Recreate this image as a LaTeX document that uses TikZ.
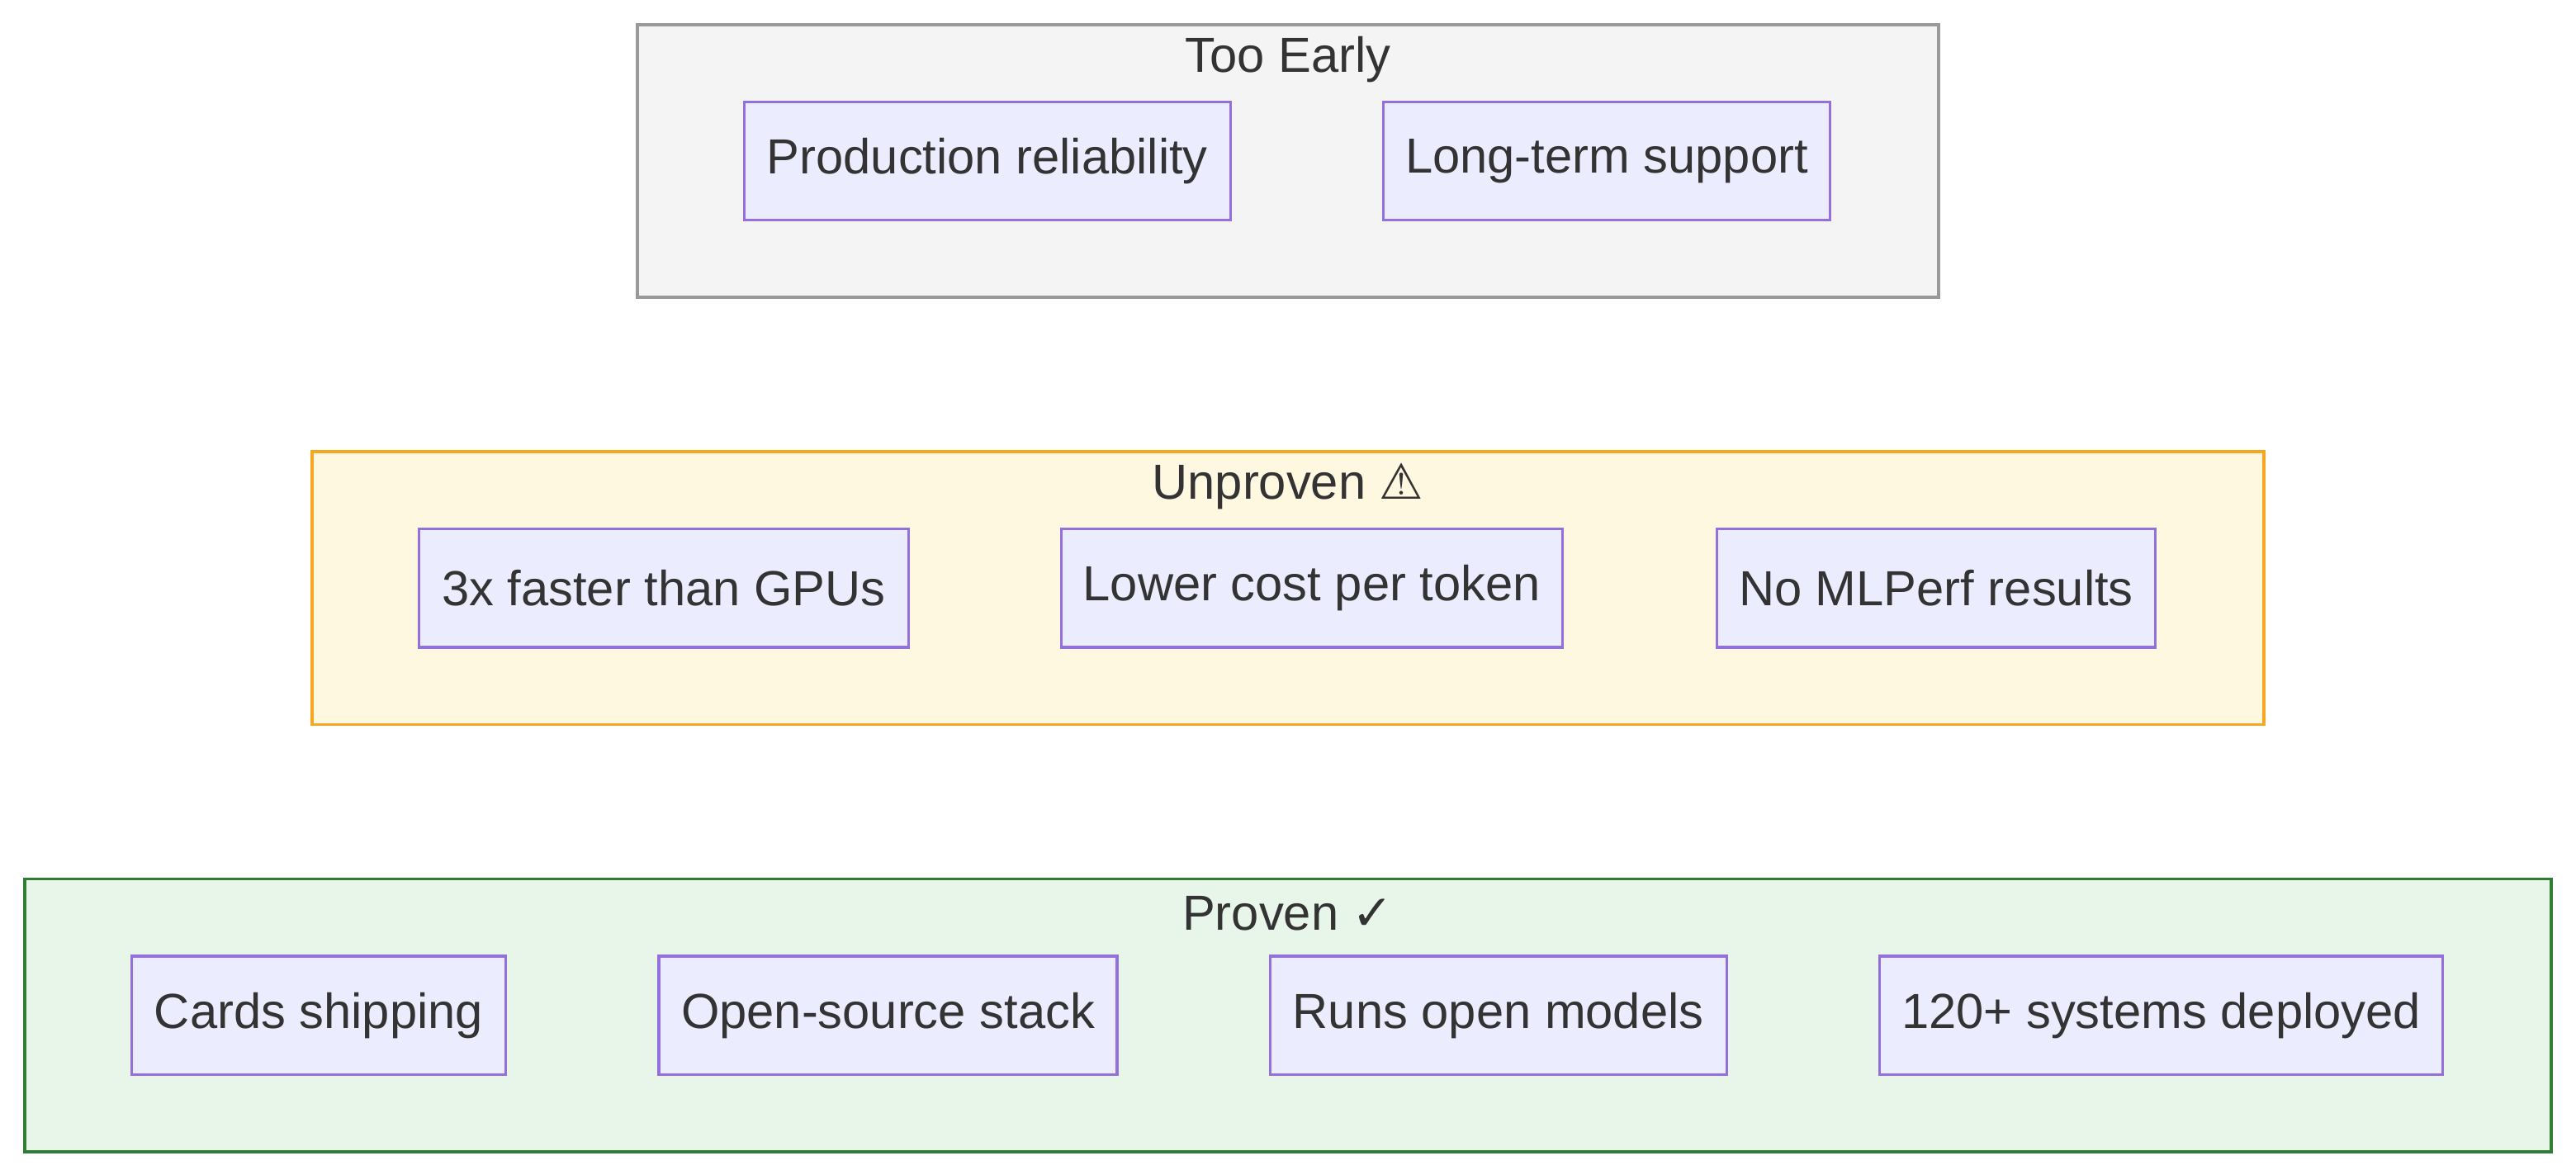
\documentclass[tikz,border=0pt]{standalone}
\usepackage{fontspec}
\setmainfont{Liberation Sans}
\newfontfamily\symf{DejaVu Sans}
\begin{document}
\begin{tikzpicture}[x=0.5pt,y=-0.5pt,
  txt/.style={text=black!80, font=\fontsize{15}{18}\selectfont},
  item/.style={txt, draw=violet!60!blue!70!white, draw={rgb,255:red,147;green,112;blue,219}, fill={rgb,255:red,236;green,236;blue,255}, line width=0.8pt, inner sep=0pt},
  grp/.style={line width=0.9pt}]
\useasboundingbox (0,0) rectangle (1568,712);
\definecolor{gs}{HTML}{999999}\definecolor{gf}{HTML}{F4F4F4}
\definecolor{ys}{HTML}{F5A623}\definecolor{yf}{HTML}{FFF8E1}
\definecolor{ns}{HTML}{2E7D32}\definecolor{nf}{HTML}{E8F5E9}
\newcommand{\itm}[6]{\node[item, minimum width=#3*0.5pt-#2*0.5pt, minimum height=#5*0.5pt-#4*0.5pt] (#1) at ({(#2+#3)/2},{(#4+#5)/2}) {#6};}
% Too Early
\draw[grp, draw=gs, fill=gf] (388,15) rectangle (1180,181);
\node[txt] (t1) at (784,36) {Too Early};
\itm{a1}{453}{749}{62}{134}{Production reliability}
\itm{a2}{842}{1114}{62}{134}{Long-term support}
% Unproven
\draw[grp, draw=ys, fill=yf] (190,275) rectangle (1378,441);
\node[txt] (t2) at (784,296) {Unproven {\symf ⚠}};
\itm{b1}{255}{553}{322}{394}{3x faster than GPUs}
\itm{b2}{646}{951}{322}{394}{Lower cost per token}
\itm{b3}{1045}{1312}{322}{394}{No MLPerf results}
% Proven
\draw[grp, draw=ns, fill=nf] (15,535) rectangle (1553,701);
\node[txt] (t3) at (784,556) {Proven {\symf ✓}};
\itm{c1}{80}{308}{582}{654}{Cards shipping}
\itm{c2}{401}{680}{582}{654}{Open-source stack}
\itm{c3}{773}{1051}{582}{654}{Runs open models}
\itm{c4}{1144}{1487}{582}{654}{120+ systems deployed}
\end{tikzpicture}
\end{document}
